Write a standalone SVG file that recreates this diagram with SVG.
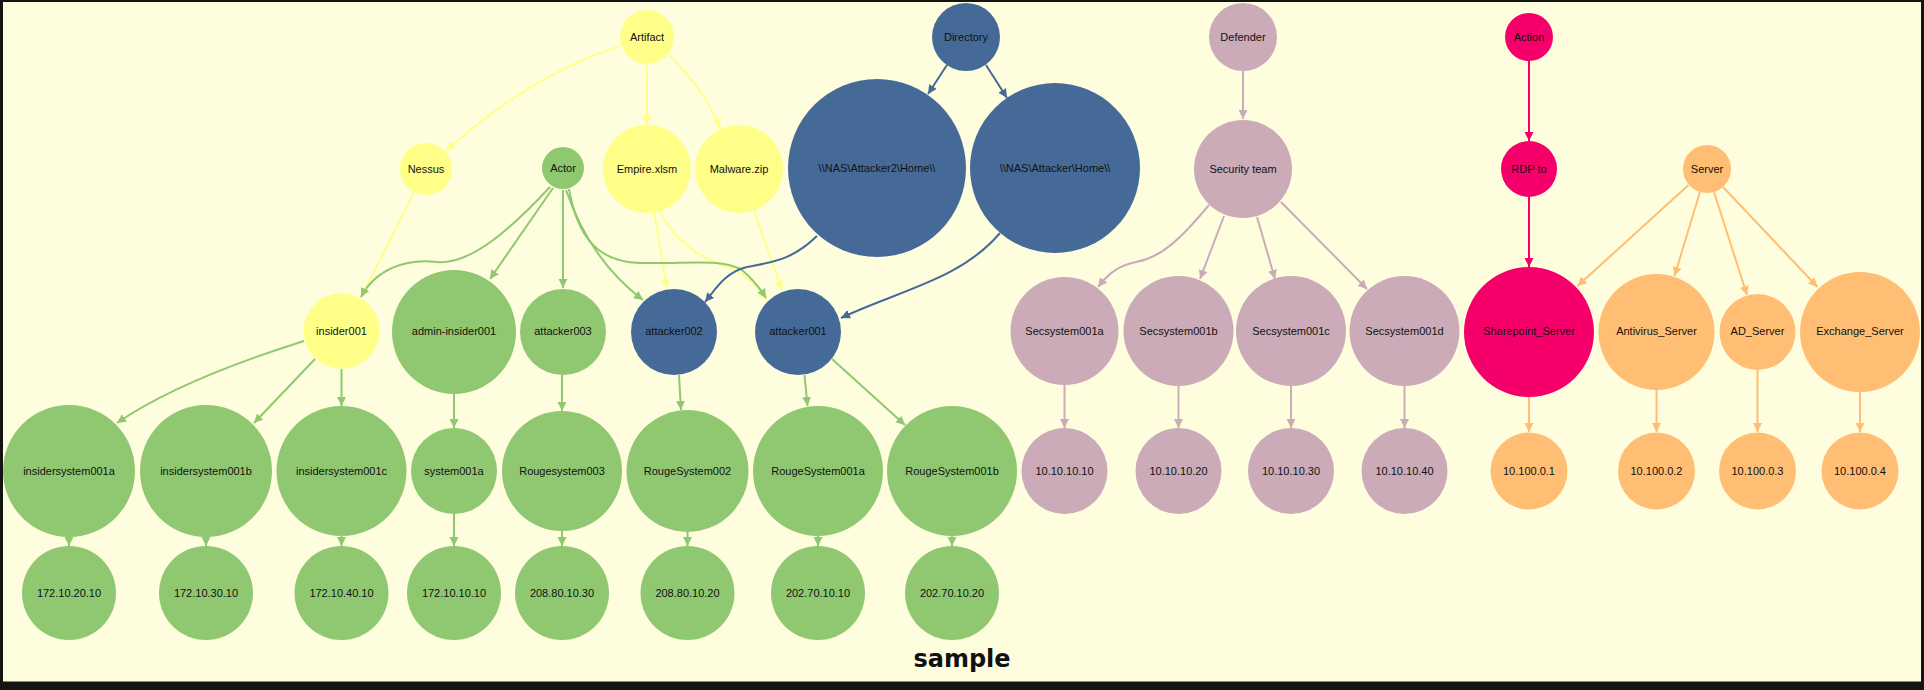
<svg xmlns="http://www.w3.org/2000/svg" width="1924" height="690" viewBox="0 0 1924 690">
<style>
text{font-family:"Liberation Sans",Arial,sans-serif;font-size:11px;fill:#111;text-anchor:middle;dominant-baseline:central}
.y{fill:#FFFF88}.g{fill:#8FC870}.b{fill:#466A97}.m{fill:#CBABB8}.p{fill:#F5006A}.o{fill:#FFBE73}
.e{fill:none;stroke-width:2}
.ey{stroke:#FFFF88;marker-end:url(#ay)}.eg{stroke:#8FC870;marker-end:url(#ag)}.eb{stroke:#466A97;marker-end:url(#ab)}
.em{stroke:#CBABB8;marker-end:url(#am)}.ep{stroke:#F5006A;marker-end:url(#ap)}.eo{stroke:#FFBE73;marker-end:url(#ao)}
.title{font-family:"DejaVu Sans",sans-serif;font-weight:bold;font-size:24px;fill:#111;dominant-baseline:auto}
</style>
<defs>
<marker id="ay" markerUnits="userSpaceOnUse" markerWidth="10" markerHeight="10" refX="9" refY="5" orient="auto"><path d="M0,0.5 L9,5 L0,9.5z" fill="#FFFF88"/></marker>
<marker id="ag" markerUnits="userSpaceOnUse" markerWidth="10" markerHeight="10" refX="9" refY="5" orient="auto"><path d="M0,0.5 L9,5 L0,9.5z" fill="#8FC870"/></marker>
<marker id="ab" markerUnits="userSpaceOnUse" markerWidth="10" markerHeight="10" refX="9" refY="5" orient="auto"><path d="M0,0.5 L9,5 L0,9.5z" fill="#466A97"/></marker>
<marker id="am" markerUnits="userSpaceOnUse" markerWidth="10" markerHeight="10" refX="9" refY="5" orient="auto"><path d="M0,0.5 L9,5 L0,9.5z" fill="#CBABB8"/></marker>
<marker id="ap" markerUnits="userSpaceOnUse" markerWidth="10" markerHeight="10" refX="9" refY="5" orient="auto"><path d="M0,0.5 L9,5 L0,9.5z" fill="#F5006A"/></marker>
<marker id="ao" markerUnits="userSpaceOnUse" markerWidth="10" markerHeight="10" refX="9" refY="5" orient="auto"><path d="M0,0.5 L9,5 L0,9.5z" fill="#FFBE73"/></marker>
</defs>
<rect x="0" y="0" width="1924" height="690" fill="#141414"/>
<rect x="3" y="2" width="1918" height="679.5" fill="#FEFEDF"/>

<g id="connectors">
<!-- yellow -->
<path class="e ey" d="M620,46 Q530,75 446,151"/>
<path class="e ey" d="M647,65 L647,125"/>
<path class="e ey" d="M669,55 Q705,90 720,128"/>
<path class="e ey" d="M414,193 L361,297"/>
<path class="e ey" d="M654,212 L667,288"/>
<path class="e ey" d="M660,212 C680,250 712,262 730,268 C748,275 758,288 767,300"/>
<path class="e ey" d="M754,211 L782,290"/>
<!-- green -->
<path class="e eg" d="M550,187 C510,230 470,265 437,262 C405,258 375,270 361,297"/>
<path class="e eg" d="M553,188 L490,279"/>
<path class="e eg" d="M563,190 L563,288"/>
<path class="e eg" d="M566,190 Q590,260 643,300"/>
<path class="e eg" d="M569,189 C578,240 600,262 640,263 C690,264 722,258 742,270 Q756,282 766,298"/>
<path class="e eg" d="M304,341 Q180,380 117,423"/>
<path class="e eg" d="M315,359 L254,423"/>
<path class="e eg" d="M341.5,369 L341.5,406"/>
<path class="e eg" d="M454,394 L454,428"/>
<path class="e eg" d="M562,375 L562,411"/>
<path class="e eg" d="M679,375 L681,410"/>
<path class="e eg" d="M804.5,375 L807.5,406"/>
<path class="e eg" d="M832,359 L905,425"/>
<path class="e eg" d="M69,537 L69,546"/>
<path class="e eg" d="M206,537 L206,546"/>
<path class="e eg" d="M341.5,536 L341.5,546"/>
<path class="e eg" d="M454,514 L454,546"/>
<path class="e eg" d="M562,531 L562,546"/>
<path class="e eg" d="M687.5,532 L687.5,546"/>
<path class="e eg" d="M818,536 L818,546"/>
<path class="e eg" d="M952,536 L952,546"/>
<!-- blue -->
<path class="e eb" d="M947,65 L928,94"/>
<path class="e eb" d="M986,65 L1007,98"/>
<path class="e eb" d="M817,236 C790,262 770,262 747,267 C725,272 715,290 705,302"/>
<path class="e eb" d="M1000,233 C960,280 900,290 841,318"/>
<!-- mauve -->
<path class="e em" d="M1243,71 L1243,119"/>
<path class="e em" d="M1209,205 C1180,240 1160,258 1136,262 C1115,266 1105,278 1098,287"/>
<path class="e em" d="M1224,216 L1200,279"/>
<path class="e em" d="M1257,217 L1275,279"/>
<path class="e em" d="M1281,202 L1367,289"/>
<path class="e em" d="M1064.5,385 L1064.5,428"/>
<path class="e em" d="M1178.5,386 L1178.5,428"/>
<path class="e em" d="M1291,386 L1291,428"/>
<path class="e em" d="M1404.5,386 L1404.5,428"/>
<!-- pink -->
<path class="e ep" d="M1529,61 L1529,141"/>
<path class="e ep" d="M1529,197 L1529,267"/>
<!-- orange -->
<path class="e eo" d="M1688.5,185 L1577.5,286"/>
<path class="e eo" d="M1700,192 L1674.5,276"/>
<path class="e eo" d="M1714,192 L1747,295"/>
<path class="e eo" d="M1723,187 L1817.5,287"/>
<path class="e eo" d="M1529,397 L1529,432"/>
<path class="e eo" d="M1656.5,390 L1656.5,432"/>
<path class="e eo" d="M1757.5,370 L1757.5,432"/>
<path class="e eo" d="M1860,392 L1860,432"/>
</g>

<g id="n-artifact"><circle class="y" cx="647" cy="37" r="27"/><text x="647" y="37">Artifact</text></g>
<g id="n-nessus"><circle class="y" cx="426" cy="169" r="26"/><text x="426" y="169">Nessus</text></g>
<g id="n-actor"><circle class="g" cx="563" cy="168" r="21"/><text x="563" y="168">Actor</text></g>
<g id="n-empire"><circle class="y" cx="647" cy="169" r="44"/><text x="647" y="169">Empire.xlsm</text></g>
<g id="n-malware"><circle class="y" cx="739" cy="169" r="44"/><text x="739" y="169">Malware.zip</text></g>
<g id="n-directory"><circle class="b" cx="966" cy="37" r="34"/><text x="966" y="37">Directory</text></g>
<g id="n-nas2"><circle class="b" cx="877" cy="168" r="89"/><text x="877" y="168">\\NAS\Attacker2\Home\\</text></g>
<g id="n-nas"><circle class="b" cx="1055" cy="168" r="85"/><text x="1055" y="168">\\NAS\Attacker\Home\\</text></g>
<g id="n-defender"><circle class="m" cx="1243" cy="37" r="34"/><text x="1243" y="37">Defender</text></g>
<g id="n-secteam"><circle class="m" cx="1243" cy="169" r="49"/><text x="1243" y="169">Security team</text></g>
<g id="n-action"><circle class="p" cx="1529" cy="37" r="24"/><text x="1529" y="37">Action</text></g>
<g id="n-rdp"><circle class="p" cx="1529" cy="169" r="28"/><text x="1529" y="169">RDP to</text></g>
<g id="n-server"><circle class="o" cx="1707" cy="169" r="24"/><text x="1707" y="169">Server</text></g>

<g id="n-insider001"><circle class="y" cx="341.5" cy="331" r="38"/><text x="341.5" y="331">insider001</text></g>
<g id="n-admin-insider001"><circle class="g" cx="454" cy="332" r="62"/><text x="454" y="331">admin-insider001</text></g>
<g id="n-attacker003"><circle class="g" cx="563" cy="332" r="43"/><text x="563" y="331">attacker003</text></g>
<g id="n-attacker002"><circle class="b" cx="674" cy="332" r="43"/><text x="674" y="331">attacker002</text></g>
<g id="n-attacker001"><circle class="b" cx="798" cy="332" r="43"/><text x="798" y="331">attacker001</text></g>
<g id="n-sec001a"><circle class="m" cx="1064.5" cy="331" r="54"/><text x="1064.5" y="331">Secsystem001a</text></g>
<g id="n-sec001b"><circle class="m" cx="1178.5" cy="331" r="55"/><text x="1178.5" y="331">Secsystem001b</text></g>
<g id="n-sec001c"><circle class="m" cx="1291" cy="331" r="55"/><text x="1291" y="331">Secsystem001c</text></g>
<g id="n-sec001d"><circle class="m" cx="1404.5" cy="331" r="55"/><text x="1404.5" y="331">Secsystem001d</text></g>
<g id="n-sharepoint"><circle class="p" cx="1529" cy="332" r="65"/><text x="1529" y="331">Sharepoint_Server</text></g>
<g id="n-antivirus"><circle class="o" cx="1656.5" cy="332" r="58"/><text x="1656.5" y="331">Antivirus_Server</text></g>
<g id="n-ad"><circle class="o" cx="1757.5" cy="332" r="38"/><text x="1757.5" y="331">AD_Server</text></g>
<g id="n-exchange"><circle class="o" cx="1860" cy="332" r="60"/><text x="1860" y="331">Exchange_Server</text></g>

<g id="n-insidersystem001a"><circle class="g" cx="69" cy="471" r="66"/><text x="69" y="471">insidersystem001a</text></g>
<g id="n-insidersystem001b"><circle class="g" cx="206" cy="471" r="66"/><text x="206" y="471">insidersystem001b</text></g>
<g id="n-insidersystem001c"><circle class="g" cx="341.5" cy="471" r="65"/><text x="341.5" y="471">insidersystem001c</text></g>
<g id="n-system001a"><circle class="g" cx="454" cy="471" r="43"/><text x="454" y="471">system001a</text></g>
<g id="n-rougesystem003"><circle class="g" cx="562" cy="471" r="60"/><text x="562" y="471">Rougesystem003</text></g>
<g id="n-rougesystem002"><circle class="g" cx="687.5" cy="471" r="61"/><text x="687.5" y="471">RougeSystem002</text></g>
<g id="n-rougesystem001a"><circle class="g" cx="818" cy="471" r="65"/><text x="818" y="471">RougeSystem001a</text></g>
<g id="n-rougesystem001b"><circle class="g" cx="952" cy="471" r="65"/><text x="952" y="471">RougeSystem001b</text></g>
<g id="n-ip-10-10-10-10"><circle class="m" cx="1064.5" cy="471" r="43"/><text x="1064.5" y="471">10.10.10.10</text></g>
<g id="n-ip-10-10-10-20"><circle class="m" cx="1178.5" cy="471" r="43"/><text x="1178.5" y="471">10.10.10.20</text></g>
<g id="n-ip-10-10-10-30"><circle class="m" cx="1291" cy="471" r="43"/><text x="1291" y="471">10.10.10.30</text></g>
<g id="n-ip-10-10-10-40"><circle class="m" cx="1404.5" cy="471" r="43"/><text x="1404.5" y="471">10.10.10.40</text></g>
<g id="n-ip-10-100-0-1"><circle class="o" cx="1529" cy="471" r="38.5"/><text x="1529" y="471">10.100.0.1</text></g>
<g id="n-ip-10-100-0-2"><circle class="o" cx="1656.5" cy="471" r="38.5"/><text x="1656.5" y="471">10.100.0.2</text></g>
<g id="n-ip-10-100-0-3"><circle class="o" cx="1757.5" cy="471" r="38.5"/><text x="1757.5" y="471">10.100.0.3</text></g>
<g id="n-ip-10-100-0-4"><circle class="o" cx="1860" cy="471" r="38.5"/><text x="1860" y="471">10.100.0.4</text></g>

<g id="n-ip-172-10-20-10"><circle class="g" cx="69" cy="593" r="47"/><text x="69" y="593">172.10.20.10</text></g>
<g id="n-ip-172-10-30-10"><circle class="g" cx="206" cy="593" r="47"/><text x="206" y="593">172.10.30.10</text></g>
<g id="n-ip-172-10-40-10"><circle class="g" cx="341.5" cy="593" r="47"/><text x="341.5" y="593">172.10.40.10</text></g>
<g id="n-ip-172-10-10-10"><circle class="g" cx="454" cy="593" r="47"/><text x="454" y="593">172.10.10.10</text></g>
<g id="n-ip-208-80-10-30"><circle class="g" cx="562" cy="593" r="47"/><text x="562" y="593">208.80.10.30</text></g>
<g id="n-ip-208-80-10-20"><circle class="g" cx="687.5" cy="593" r="47"/><text x="687.5" y="593">208.80.10.20</text></g>
<g id="n-ip-202-70-10-10"><circle class="g" cx="818" cy="593" r="47"/><text x="818" y="593">202.70.10.10</text></g>
<g id="n-ip-202-70-10-20"><circle class="g" cx="952" cy="593" r="47"/><text x="952" y="593">202.70.10.20</text></g>

<text class="title" x="962" y="667">sample</text>
</svg>
